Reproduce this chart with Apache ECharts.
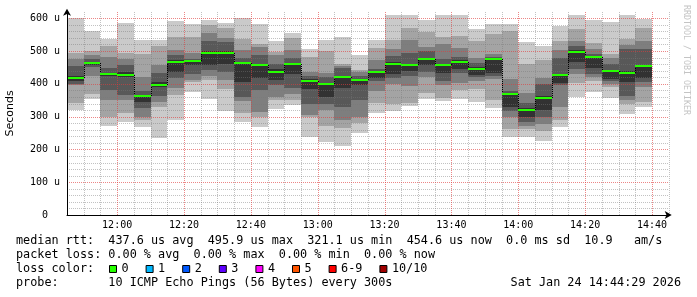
<!DOCTYPE html>
<html><head><meta charset="utf-8">
<script src="https://cdn.jsdelivr.net/npm/echarts@6/dist/echarts.min.js"></script>
<style>html,body{margin:0;padding:0;background:#fff;}#c{width:697px;height:297px;}</style>
</head><body><div id="c"></div>
<script>
// slot boundaries (5 min); 35 data columns start at times[0..34]
const times = ['11:45','11:50','11:55','12:00','12:05','12:10','12:15','12:20','12:25','12:30','12:35','12:40','12:45','12:50','12:55','13:00','13:05','13:10','13:15','13:20','13:25','13:30','13:35','13:40','13:45','13:50','13:55','14:00','14:05','14:10','14:15','14:20','14:25','14:30','14:35','14:40','14:45'];
// sorted ping RTTs per column (microseconds)
const ping1  = [320,354,271,284,269,234,290,376,354,317,283,269,322,335,239,224,211,251,310,318,332,355,347,353,346,327,238,237,226,267,360,376,358,308,330];
const ping2  = [341,369,300,310,290,328,366,405,411,384,312,300,350,350,300,270,264,281,342,338,342,371,356,380,385,352,262,262,255,290,404,410,390,340,346];
const ping3  = [395,423,350,350,300,345,387,411,425,411,347,315,360,370,305,320,290,300,379,400,393,420,396,404,410,415,300,270,278,330,431,420,400,350,390];
const ping4  = [400,450,381,366,326,363,417,429,442,437,360,381,395,386,340,340,330,350,408,418,424,437,410,432,420,425,318,283,300,395,445,431,408,363,405];
const ping5  = [410,458,424,422,345,390,437,457,457,462,406,417,411,430,385,361,386,395,418,430,440,457,432,445,428,432,330,300,320,404,467,448,415,405,419];
const ping6  = [424,468,434,435,366,405,472,471,500,500,468,462,445,465,414,403,425,415,440,466,462,480,462,472,450,479,373,325,362,430,502,485,442,440,458];
const ping7  = [454,475,448,457,378,432,488,475,531,527,478,488,462,478,425,422,447,425,445,485,493,500,477,482,463,482,377,343,400,479,516,490,462,505,505];
const ping8  = [477,488,482,477,421,457,503,493,554,539,503,513,487,503,437,434,455,435,474,505,533,513,523,510,480,490,414,371,418,504,532,505,478,517,530];
const ping9  = [494,500,515,494,492,515,543,543,578,569,538,523,497,540,482,501,462,442,510,533,569,559,543,546,531,552,561,461,474,530,566,524,492,538,569];
const ping10 = [600,560,538,586,533,533,591,581,594,585,602,584,530,556,505,533,543,488,533,611,611,594,611,609,566,582,582,527,515,576,609,594,588,609,598];
const median = [418,464,429,427,362,396,467,469,494,494,463,456,437,461,410,398,420,411,436,461,458,476,458,468,446,476,370,320,358,427,496,481,438,434,454];

// y grid levels (microseconds)
const yMajor = [100,200,300,400,500,600];
const yMinor = [20,40,60,80,120,140,160,180,220,240,260,280,320,340,360,380,420,440,460,480,520,540,560,580];

const lossLabels = ['0','1','2','3','4','5','6-9','10/10'];
const lossColors = ['#26ff00','#00b8ff','#0059ff','#5e00ff','#ff00ff','#ff5500','#ff0000','#a00000'];
const statLine1 = 'median rtt:  437.6 us avg  495.9 us max  321.1 us min  454.6 us now  0.0 ms sd  10.9   am/s';
const statLine2 = 'packet loss: 0.00 % avg  0.00 % max  0.00 % min  0.00 % now';
const statLine3 = 'loss color:';
const statLine4 = 'probe:       10 ICMP Echo Pings (56 Bytes) every 300s';
const stampText = 'Sat Jan 24 14:44:29 2026';

const shades = ['#cacaca','#a4a4a4','#7e7e7e','#585858','#323232','#585858','#7e7e7e','#a4a4a4','#cacaca'];
const pingArrays = [ping1,ping2,ping3,ping4,ping5,ping6,ping7,ping8,ping9,ping10];
const smokeData = median.map((m, i) => [i].concat(pingArrays.map(a => a[i])));
const medData = median.map((m, i) => [i, m, i > 0 ? median[i - 1] : m]);
const isMajor = idx => parseInt(times[idx].split(':')[1], 10) % 20 === 0;
const vGridData = times.map((t, i) => [i, 0, isMajor(i) ? 1 : 0]).filter(d => d[0] > 0);
const hGridData = yMinor.map(v => [0, v, 0]).concat(yMajor.map(v => [0, v, 1]));

const mono = '"DejaVu Sans Mono", monospace';
const GRAY = 'rgba(120,120,120,0.45)';
const RED = 'rgba(225,60,60,0.62)';
const LAST = times.length - 1;
const YMAX = 620;

const chart = echarts.init(document.getElementById('c'), null, {renderer: 'canvas'});

const legendFont = '11.8px ' + mono;
const rowY = [241, 255, 269, 283];
const graphics = [];
[statLine1, statLine2, statLine3, statLine4].forEach((t, k) => {
  graphics.push({type: 'text', x: 16, y: rowY[k], silent: true,
    style: {text: t, font: legendFont, fill: '#000', align: 'left', verticalAlign: 'middle'}});
});
graphics.push({type: 'text', x: 681, y: rowY[3], silent: true,
  style: {text: stampText, font: legendFont, fill: '#000', align: 'right', verticalAlign: 'middle'}});
let sx = 109;
lossLabels.forEach((lab, k) => {
  graphics.push({type: 'rect', silent: true, shape: {x: sx + 0.5, y: rowY[2] - 3.5, width: 7, height: 7},
    style: {fill: lossColors[k], stroke: '#000', lineWidth: 1}});
  graphics.push({type: 'text', x: sx + 12.5, y: rowY[2], silent: true,
    style: {text: lab, font: legendFont, fill: '#000', align: 'left', verticalAlign: 'middle'}});
  sx = sx + 12.5 + lab.length * 7.1 + 17;
});
graphics.push({type: 'text', x: 686, y: 5, rotation: -Math.PI / 2, silent: true,
  style: {text: 'RRDTOOL / TOBI OETIKER', font: '8.3px ' + mono, fill: '#c4c4c4', align: 'left', verticalAlign: 'middle'}});

chart.setOption({
  animation: false,
  backgroundColor: '#fff',
  grid: {left: 67, right: 28.3, top: 11.7, bottom: 82, containLabel: false, outerBoundsMode: 'none'},
  xAxis: [{
    type: 'category', data: times, boundaryGap: false, z: 6,
    axisLine: {show: true, lineStyle: {color: '#000', width: 1}, symbol: ['none', 'arrow'], symbolSize: [6, 7], symbolOffset: [0, 3]},
    axisTick: {show: false},
    axisLabel: {interval: (idx) => isMajor(idx), fontFamily: mono, fontSize: 10, color: '#000', margin: 5},
    splitLine: {show: false}
  }],
  yAxis: [{
    type: 'value', min: 0, max: YMAX, interval: 20, z: 6,
    name: 'Seconds', nameLocation: 'middle', nameGap: 51, nameRotate: 90,
    nameTextStyle: {fontFamily: '"DejaVu Sans", sans-serif', fontSize: 11, color: '#000'},
    axisLine: {show: true, lineStyle: {color: '#000', width: 1}, symbol: ['none', 'arrow'], symbolSize: [6, 7], symbolOffset: [0, 3]},
    axisTick: {show: false},
    axisLabel: {fontFamily: mono, fontSize: 10, color: '#000', margin: 7,
      formatter: v => (v % 100 === 0 && v <= 600) ? (v === 0 ? '0  ' : v + ' u') : ''},
    splitLine: {show: false}
  }],
  graphic: graphics,
  series: [{
    type: 'custom', name: 'smoke', z: 1, silent: true,
    data: smokeData,
    encode: {x: 0, y: [1,2,3,4,5,6,7,8,9,10]},
    renderItem: function (params, api) {
      const i = api.value(0);
      const xa = Math.round(api.coord([i, 0])[0]);
      const xb = Math.round(api.coord([i + 1, 0])[0]);
      const vals = [];
      for (let k = 1; k <= 10; k++) vals.push(api.value(k));
      const children = [];
      for (let b = 0; b < 9; b++) {
        const yTop = Math.round(api.coord([i, vals[b + 1]])[1]);
        const yBot = Math.round(api.coord([i, vals[b]])[1]);
        children.push({type: 'rect', shape: {x: xa, y: yTop, width: xb - xa, height: Math.max(0, yBot - yTop)},
          style: {fill: shades[b]}});
      }
      return {type: 'group', children: children};
    }
  }, {
    type: 'custom', name: 'vgrid', z: 3, silent: true,
    data: vGridData,
    encode: {x: 0, y: 1},
    renderItem: function (params, api) {
      const i = api.value(0);
      const x = Math.round(api.coord([i, 0])[0]) + 0.5;
      const y0 = Math.round(api.coord([i, 0])[1]);
      const y1 = Math.round(api.coord([i, YMAX])[1]);
      return {type: 'line', shape: {x1: x, y1: y0, x2: x, y2: y1},
        style: {stroke: api.value(2) ? RED : GRAY, lineWidth: 1, lineDash: [1, 1]}, z2: api.value(2) ? 2 : 1};
    }
  }, {
    type: 'custom', name: 'hgrid', z: 3, silent: true,
    data: hGridData,
    encode: {x: 0, y: 1},
    renderItem: function (params, api) {
      const v = api.value(1);
      const y = Math.round(api.coord([0, v])[1]) + 0.5;
      const x0 = Math.round(api.coord([0, v])[0]);
      const x1 = Math.round(api.coord([LAST, v])[0]);
      return {type: 'line', shape: {x1: x0, y1: y, x2: x1, y2: y},
        style: {stroke: api.value(2) ? RED : GRAY, lineWidth: 1, lineDash: [1, 1]}, z2: api.value(2) ? 2 : 1};
    }
  }, {
    type: 'custom', name: 'median', z: 5, silent: true,
    data: medData,
    encode: {x: 0, y: 1},
    renderItem: function (params, api) {
      const i = api.value(0);
      const xa = Math.round(api.coord([i, 0])[0]);
      const xb = Math.round(api.coord([i + 1, 0])[0]);
      const y = Math.round(api.coord([i, api.value(1)])[1]);
      const yp = Math.round(api.coord([i, api.value(2)])[1]);
      const children = [];
      if (i > 0 && yp !== y) {
        children.push({type: 'line', shape: {x1: xa + 0.5, y1: yp, x2: xa + 0.5, y2: y},
          style: {stroke: '#000', lineWidth: 1, lineDash: [1, 1]}});
      }
      children.push({type: 'rect', shape: {x: xa, y: y - 1, width: xb - xa, height: 2}, style: {fill: '#26ff00'}});
      return {type: 'group', children: children};
    }
  }]
});
</script>
</body></html>
